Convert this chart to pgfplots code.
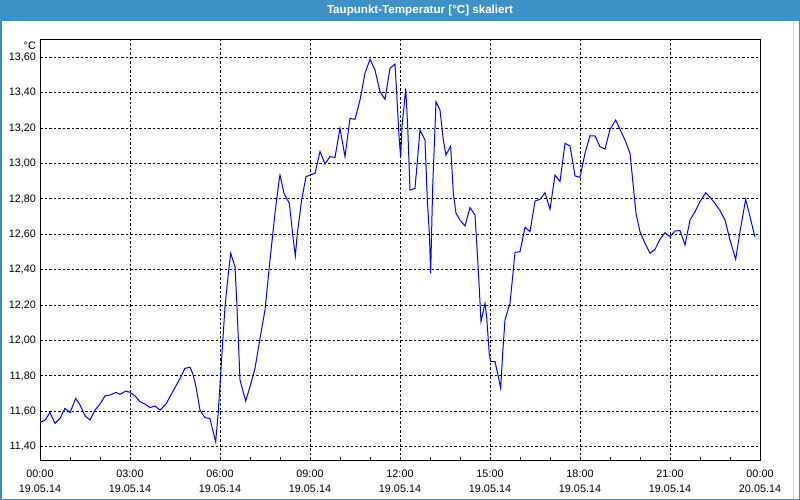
\documentclass[border=0pt]{standalone}
\usepackage{fontspec}
\setmainfont{Liberation Sans}
\usepackage{pgfplots}
\pgfplotsset{compat=1.18}
\definecolor{barblue}{RGB}{61,145,196}
\definecolor{curve}{RGB}{0,0,255}

\begin{document}
\begin{tikzpicture}
\useasboundingbox (0,0) rectangle (800bp,500bp);
\fill[white] (0,0) rectangle (800bp,500bp);
\fill[barblue] (0,479bp) rectangle (800bp,500bp);
\draw[barblue, line width=1.5bp] (0.75bp,0.75bp) rectangle (799.25bp,499.25bp);
\draw[black!15, line width=0.8bp] (793bp,1.5bp) -- (793bp,479bp);
\node[font=\bfseries\fontsize{11.6bp}{13bp}\selectfont, text=white] at (420bp,489.5bp) {Taupunkt-Temperatur [°C] skaliert};
\node[font=\fontsize{10.8bp}{13bp}\selectfont, anchor=east, inner sep=0pt] at (36bp,454bp) {°C};
\begin{axis}[
  at={(40bp,40bp)}, anchor=south west,
  scale only axis, width=720bp, height=420bp,
  xmin=0, xmax=24, ymin=11.325, ymax=13.698,
  xtick={0,3,6,9,12,15,18,21,24},
  xticklabels={{00:00\\19.05.14},{03:00\\19.05.14},{06:00\\19.05.14},{09:00\\19.05.14},{12:00\\19.05.14},{15:00\\19.05.14},{18:00\\19.05.14},{21:00\\19.05.14},{00:00\\20.05.14}},
  minor xtick={1,2,4,5,7,8,10,11,13,14,16,17,19,20,22,23},
  ytick={11.4,11.6,11.8,12.0,12.2,12.4,12.6,12.8,13.0,13.2,13.4,13.6},
  scaled y ticks=false,
  xtick pos=lower, ytick pos=left,
  tick align=inside,
  major tick length=0pt, minor tick length=3bp,
  minor tick style={black, line width=1bp},
  grid=major,
  major grid style={black, line width=1bp, dash pattern=on 2.5bp off 2bp},
  axis line style={black, line width=1bp},
  x tick label style={font=\fontsize{10.8bp}{15bp}\selectfont, align=center, inner sep=0pt, anchor=north, yshift=-10bp},
  y tick label style={font=\fontsize{10.8bp}{13bp}\selectfont, inner sep=0pt, anchor=east, xshift=-4bp,
    /pgf/number format/.cd, fixed, fixed zerofill, precision=2, use comma, assume math mode=true},
]
\addplot[curve, line width=1bp, no marks] coordinates {
(0.000,11.538)(0.167,11.550)(0.333,11.594)(0.500,11.532)(0.667,11.560)(0.833,11.617)
(1.000,11.592)(1.189,11.673)(1.333,11.636)(1.500,11.574)(1.667,11.551)(1.833,11.607)
(2.000,11.641)(2.167,11.687)(2.333,11.692)(2.533,11.707)(2.667,11.696)(2.867,11.715)
(3.000,11.707)(3.167,11.687)(3.333,11.655)(3.500,11.641)(3.667,11.621)(3.833,11.630)
(4.000,11.607)(4.200,11.641)(4.333,11.683)(4.500,11.734)(4.667,11.786)(4.833,11.843)
(5.000,11.849)(5.089,11.815)(5.200,11.739)(5.333,11.607)(5.500,11.564)(5.667,11.560)
(5.756,11.494)(5.856,11.429)(5.944,11.598)(6.056,11.900)(6.167,12.191)(6.278,12.380)
(6.356,12.493)(6.500,12.417)(6.556,12.229)(6.667,11.777)(6.856,11.658)(7.000,11.739)
(7.167,11.843)(7.333,12.012)(7.500,12.172)(7.667,12.455)(7.833,12.719)(7.978,12.916)
(8.000,12.935)(8.133,12.832)(8.311,12.775)(8.444,12.568)(8.511,12.478)(8.578,12.606)
(8.722,12.794)(8.867,12.926)(9.000,12.935)(9.167,12.945)(9.333,13.068)(9.500,12.998)
(9.667,13.039)(9.833,13.035)(10.000,13.199)(10.167,13.039)(10.333,13.255)(10.500,13.250)
(10.667,13.359)(10.833,13.510)(11.000,13.589)(11.167,13.528)(11.333,13.406)(11.500,13.363)
(11.667,13.538)(11.833,13.562)(11.889,13.400)(11.967,13.155)(12.022,13.034)(12.067,13.210)
(12.133,13.320)(12.189,13.425)(12.256,13.210)(12.333,12.850)(12.500,12.860)(12.667,13.190)
(12.833,13.133)(12.911,12.794)(12.978,12.606)(13.022,12.380)(13.089,12.869)(13.133,13.058)
(13.200,13.349)(13.333,13.302)(13.444,13.133)(13.533,13.048)(13.689,13.099)(13.778,12.832)
(13.867,12.719)(14.000,12.681)(14.167,12.647)(14.333,12.751)(14.500,12.709)(14.611,12.398)
(14.700,12.107)(14.833,12.210)(14.889,12.134)(14.978,11.918)(15.022,11.881)(15.167,11.881)
(15.278,11.796)(15.356,11.730)(15.422,11.928)(15.500,12.117)(15.667,12.210)(15.722,12.304)
(15.833,12.498)(16.000,12.502)(16.167,12.640)(16.333,12.615)(16.500,12.788)(16.667,12.798)
(16.833,12.835)(17.000,12.741)(17.167,12.935)(17.333,12.898)(17.500,13.114)(17.667,13.099)
(17.833,12.930)(18.000,12.922)(18.167,13.058)(18.333,13.157)(18.500,13.156)(18.667,13.095)
(18.833,13.082)(19.000,13.193)(19.189,13.246)(19.333,13.193)(19.500,13.133)(19.667,13.058)
(19.778,12.869)(19.867,12.719)(20.000,12.615)(20.167,12.549)(20.333,12.493)(20.500,12.515)
(20.667,12.572)(20.833,12.609)(21.000,12.587)(21.167,12.619)(21.333,12.621)(21.500,12.540)
(21.667,12.681)(21.833,12.728)(22.000,12.785)(22.189,12.835)(22.333,12.809)(22.500,12.775)
(22.667,12.734)(22.833,12.681)(23.000,12.568)(23.189,12.459)(23.333,12.615)(23.522,12.798)
(23.667,12.700)(23.833,12.583)
};
\end{axis}
\end{tikzpicture}
\end{document}
